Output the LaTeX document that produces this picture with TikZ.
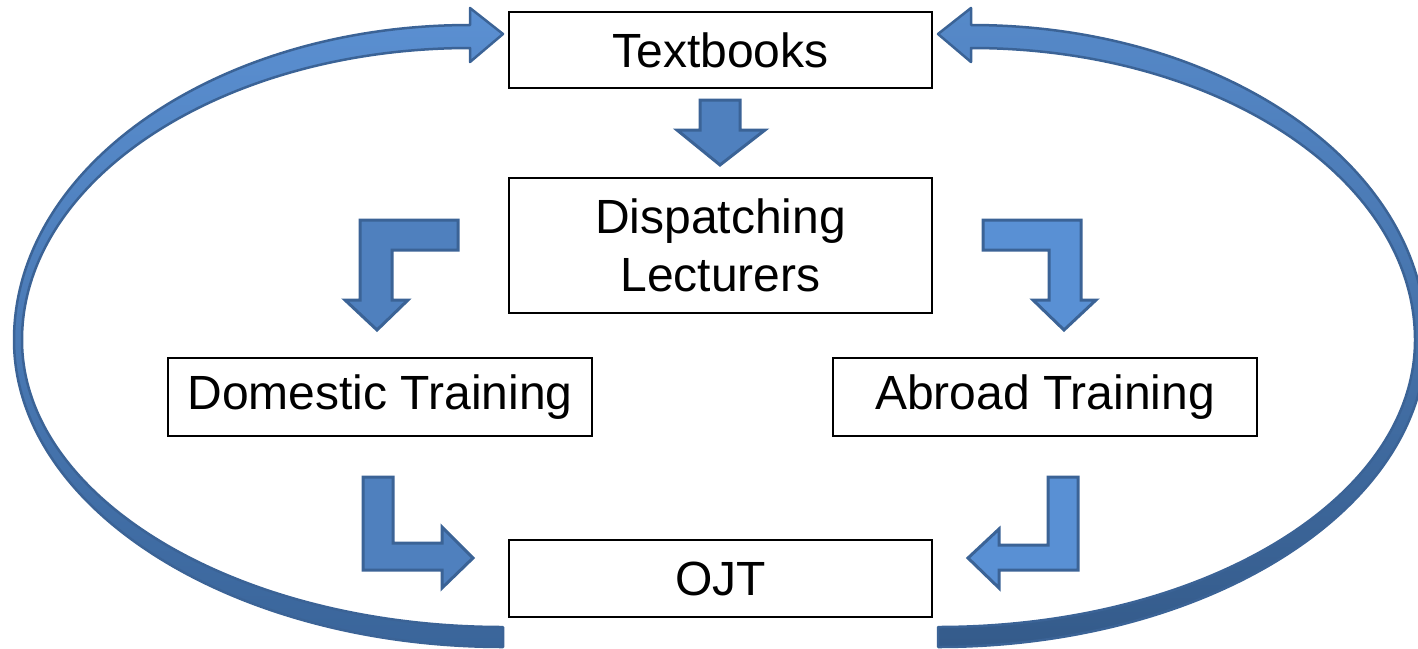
\documentclass[tikz,border=0pt]{standalone}
\usepackage{fontspec}
\setmainfont{Liberation Sans}
\definecolor{boxline}{HTML}{000000}
\definecolor{arrfillA}{HTML}{4F80BE}
\definecolor{arrfillB}{HTML}{5990D4}
\definecolor{arrline}{HTML}{3B6396}
\definecolor{curvelight}{HTML}{5B90D2}
\definecolor{curvedark}{HTML}{3A659A}
\tikzset{
  box/.style={draw=boxline, line width=2pt, fill=white, inner sep=0pt, font=\fontsize{48}{58}\selectfont, align=center},
  blockA/.style={fill=arrfillA, draw=arrline, line width=3pt, line join=miter},
  blockB/.style={fill=arrfillB, draw=arrline, line width=3pt, line join=miter},
  bigcurveL/.style={top color=curvelight, bottom color=curvedark, draw=arrline, line width=2.5pt, line join=round},
  bigcurveR/.style={top color=curvelight!85!curvedark, bottom color=curvedark!90!black, draw=arrline, line width=2.5pt, line join=round},
}
\begin{document}
\begin{tikzpicture}[x=1pt, y=-1pt]
\useasboundingbox (0,0) rectangle (1418,648);
\clip (0,0) rectangle (1418,648);

% big curved arrows
\draw[bigcurveL] (503,647) .. controls (233,647) and (14,509) .. (14,340)
  .. controls (14,166) and (218,25) .. (470,25) -- (470,8) -- (503,34) -- (470,62) -- (470,48)
  .. controls (223,48) and (22,179) .. (22,340)
  .. controls (22,498) and (237,627) .. (503,627) -- cycle;
\draw[bigcurveR] (938,647) .. controls (1208,647) and (1426,509) .. (1426,340)
  .. controls (1426,166) and (1223,25) .. (971,25) -- (971,8) -- (938,34) -- (971,62) -- (971,48)
  .. controls (1218,48) and (1415,179) .. (1415,340)
  .. controls (1415,498) and (1204,627) .. (938,627) -- cycle;

% boxes
\node[box, minimum width=423pt, minimum height=76pt] (tb) at (720.5,50) {Textbooks};
\node[box, minimum width=423pt, minimum height=135pt] (dl) at (720.5,245.5) {Dispatching\\Lecturers};
\node[box, minimum width=424pt, minimum height=78pt] (dt) at (380,397) {Domestic Training};
\node[box, minimum width=424pt, minimum height=78pt] (at) at (1045,397) {Abroad Training};
\node[box, minimum width=423pt, minimum height=77pt] (ojt) at (720.5,578.5) {OJT};

% block arrows
\draw[blockA] (700,100) -- (740,100) -- (740,130) -- (765,130) -- (720,165) -- (677,130) -- (700,130) -- cycle;
\draw[blockA] (458,220) -- (360,220) -- (360,300) -- (345,300) -- (377,330) -- (408,300) -- (392,300) -- (392,250) -- (458,250) -- cycle;
\draw[blockB] (983,220) -- (1081,220) -- (1081,300) -- (1096,300) -- (1064,330) -- (1033,300) -- (1049,300) -- (1049,250) -- (983,250) -- cycle;
\draw[blockA] (363,477) -- (393,477) -- (393,543) -- (442,543) -- (442,527) -- (473,558) -- (442,588) -- (442,570) -- (363,570) -- cycle;
\draw[blockB] (1078,477) -- (1048,477) -- (1048,545) -- (999,545) -- (999,529) -- (968,558) -- (999,588) -- (999,570) -- (1078,570) -- cycle;
\end{tikzpicture}
\end{document}
